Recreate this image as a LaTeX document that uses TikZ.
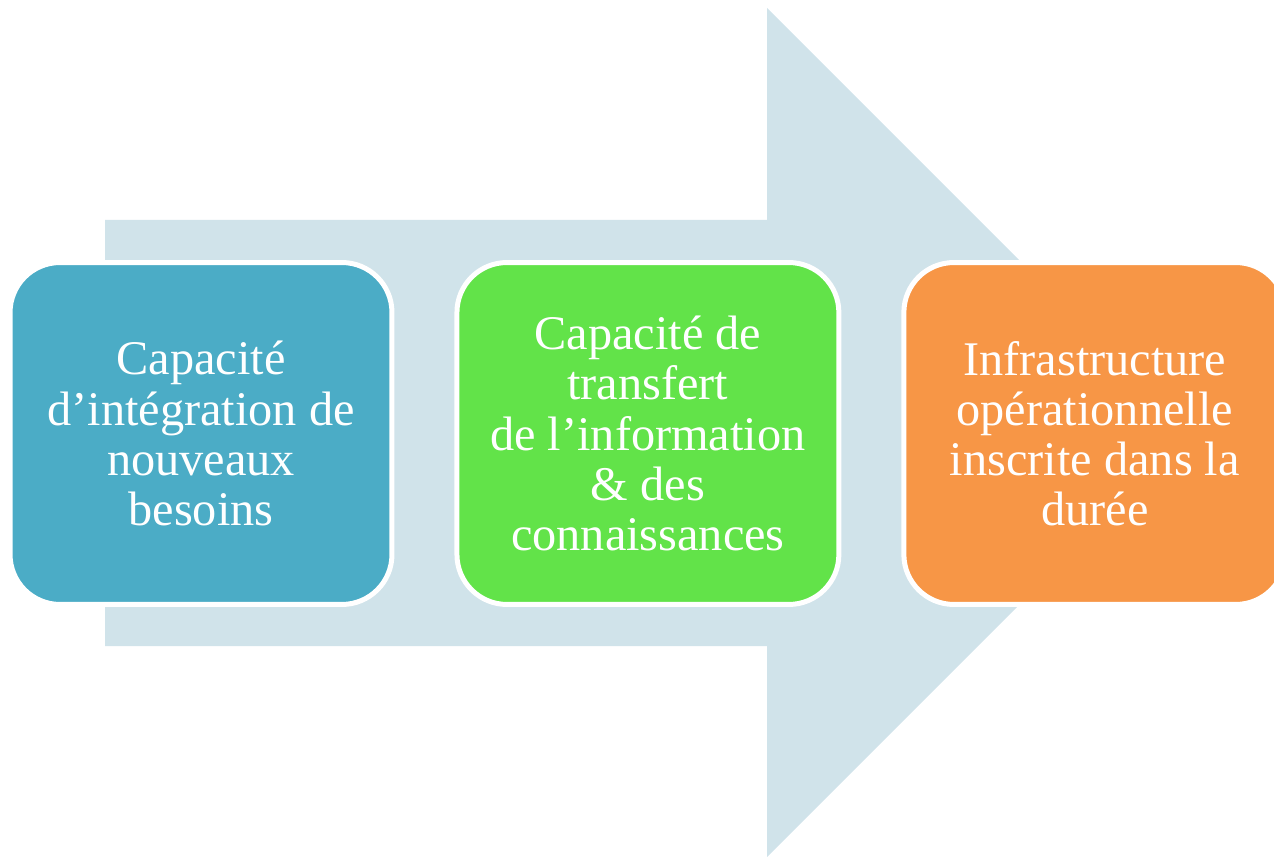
\documentclass[tikz,border=0pt]{standalone}
\usepackage{fontspec}
\setmainfont{Liberation Serif}
\usepackage{xcolor}
\usepackage{tikz}
\usetikzlibrary{positioning}

\definecolor{arrowbg}{HTML}{D0E3EA}
\definecolor{capblue}{HTML}{4BACC6}
\definecolor{capgreen}{HTML}{62E349}
\definecolor{caporange}{HTML}{F79646}

\begin{document}
\begin{tikzpicture}[x=0.02cm,y=-0.02cm,node distance=1.2cm,
    stage/.style={draw=white,line width=0.1cm,rounded corners=1cm,
      minimum width=7.64cm,minimum height=6.84cm,align=center,
      text=white,font=\fontsize{27.5}{28.5}\selectfont}]
    \useasboundingbox (0,0) rectangle (1274,857);
    % big arrow behind the stages
    \fill[arrowbg] (105,220) -- (767,220) -- (767,8) -- (1191.5,432.5)
      -- (767,857) -- (767,646) -- (105,646) -- cycle;
    \node[stage,fill=capblue]   (integ)  at (201,433.5)  {Capacité\\d’intégration de\\nouveaux\\besoins};
    \node[stage,fill=capgreen]  (transf) [right=of integ]  {Capacité de\\transfert\\de l’information\\\& des\\connaissances};
    \node[stage,fill=caporange] (infra)  [right=of transf] {Infrastructure\\opérationnelle\\inscrite dans la\\durée};
  \end{tikzpicture}
\end{document}
